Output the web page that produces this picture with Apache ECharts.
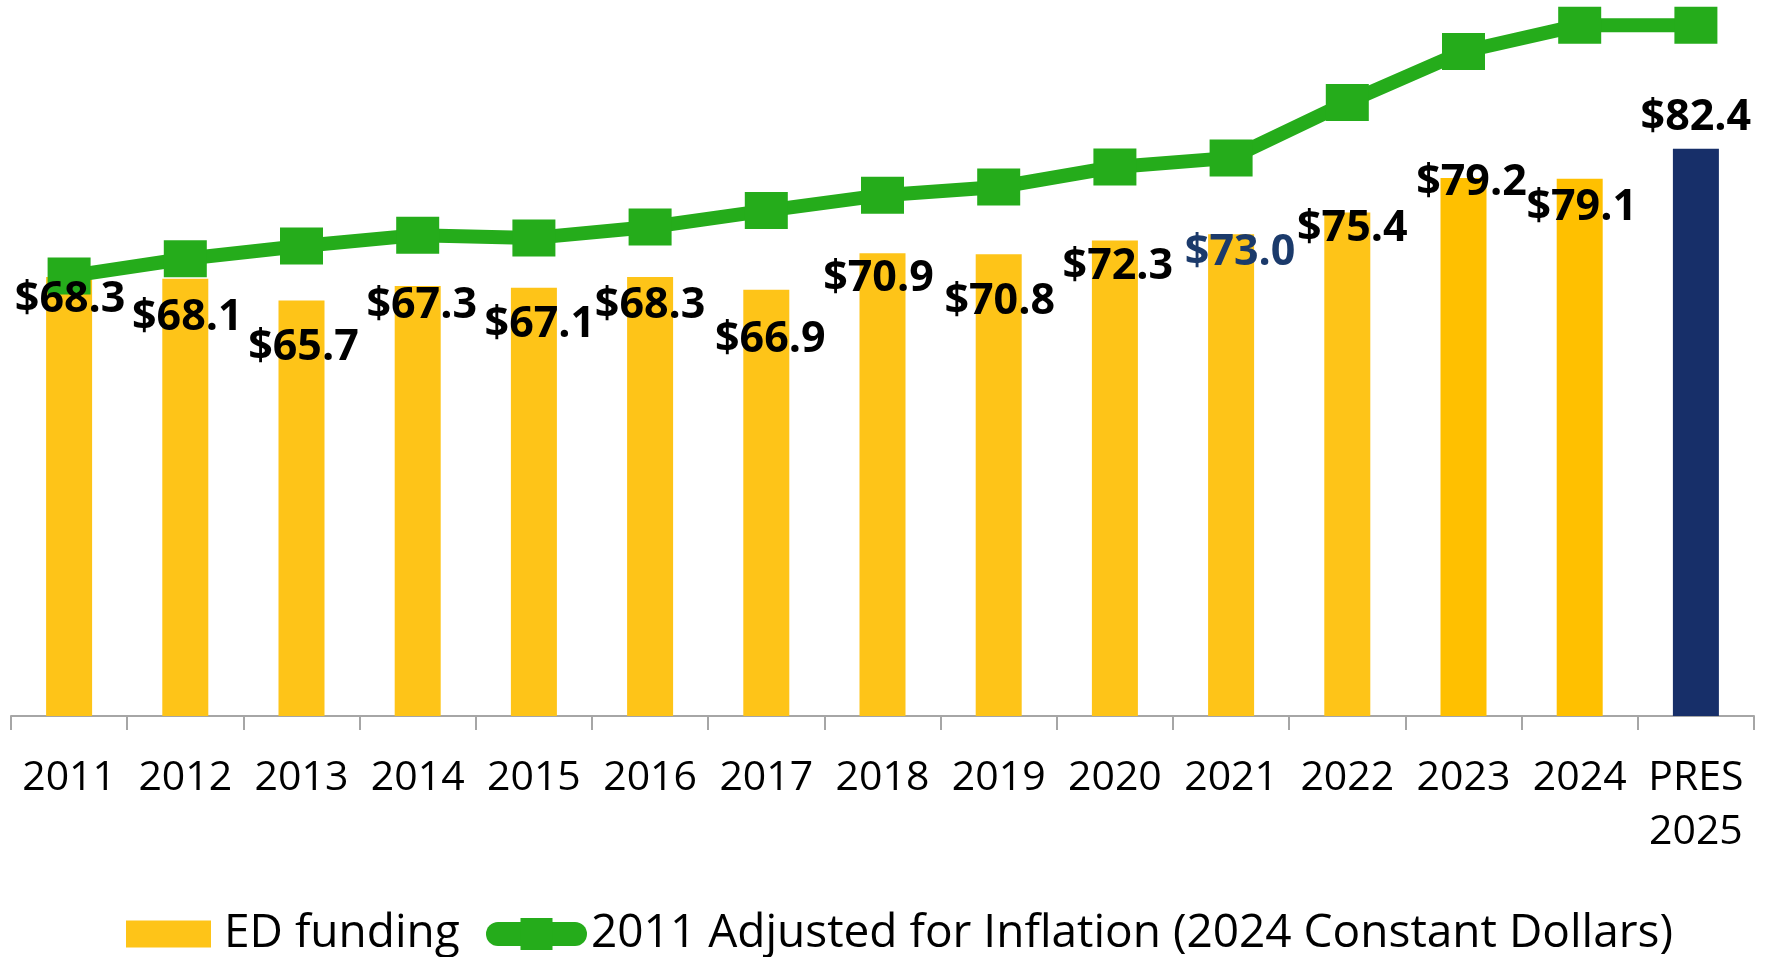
<!DOCTYPE html>
<html>
<head>
<meta charset="utf-8">
<script src="https://cdn.jsdelivr.net/npm/echarts@6/dist/echarts.min.js"></script>
<style>
html, body { margin: 0; padding: 0; background: #fff; }
#main { width: 1771px; height: 957px; }
</style>
</head>
<body>
<div id="main"></div>
<script>
// categories and values ($ billions)
var years = ['2011', '2012', '2013', '2014', '2015', '2016', '2017', '2018', '2019', '2020', '2021', '2022', '2023', '2024', 'PRES\n2025'];
var edFunding = [68.3, 68.1, 65.7, 67.3, 67.1, 68.3, 66.9, 70.9, 70.8, 72.3, 73.0, 75.4, 79.2, 79.1, 82.4];
var adjusted2011 = [68.4, 70.3, 71.7, 72.9, 72.6, 73.8, 75.6, 77.3, 78.2, 80.4, 81.4, 87.5, 93.1, 96.0, 96.0];

var barName = 'ED funding';
var lineName = '2011 Adjusted for Inflation (2024 Constant Dollars)';

// styling: bar colours, label colours, label nudges [dx, dy from bar top]
var barColors = ['#FEC418', '#FEC418', '#FEC418', '#FEC418', '#FEC418', '#FEC418', '#FEC418', '#FEC418', '#FEC418', '#FEC418', '#FEC418', '#FEC418', '#FFC000', '#FFC000', '#172F69'];
var labelColors = ['#000', '#000', '#000', '#000', '#000', '#000', '#000', '#000', '#000', '#000', '#1B3A6B', '#000', '#000', '#000', '#000'];
var labelNudge = [[1, 23], [2, 39], [2, 47], [4, 20], [6, 37], [0, 29], [4, 50], [-4, 25], [1, 48], [3, 26], [9, 19], [5, 16], [8, 5], [2, 29], [0, -31]];

var BAR_W = 46;
var FONT = '"Open Sans", Lato, sans-serif';

var myChart = echarts.init(document.getElementById('main'));

var barData = [];
var labelData = [];
for (var i = 0; i < edFunding.length; i++) {
    barData.push({
        value: edFunding[i],
        itemStyle: { color: barColors[i] }
    });
    labelData.push({
        value: edFunding[i],
        label: {
            position: [BAR_W / 2 + labelNudge[i][0], labelNudge[i][1]],
            color: labelColors[i]
        }
    });
}

var option = {
    animation: false,
    backgroundColor: '#fff',
    grid: {
        left: 11,
        right: 17,
        top: 7,
        bottom: 241,
        containLabel: false,
        outerBoundsMode: 'none'
    },
    legend: [{
        data: [{ name: barName, icon: 'rect' }],
        left: 126,
        top: 911,
        padding: 0,
        itemWidth: 85,
        itemHeight: 27,
        itemGap: 0,
        textStyle: { fontFamily: FONT, fontSize: 46, color: '#000', padding: [0, 0, 0, 8] }
    }, {
        data: [lineName],
        left: 486,
        top: 911,
        padding: 0,
        itemWidth: 77,
        itemHeight: 40,
        lineStyle: { width: 24, cap: 'round' },
        textStyle: { fontFamily: FONT, fontSize: 46, color: '#000', padding: [0, 0, 0, 11] }
    }],
    xAxis: {
        type: 'category',
        data: years,
        axisLine: { lineStyle: { color: '#A6A6A6', width: 2 } },
        axisTick: { show: true, length: 14, lineStyle: { color: '#A6A6A6', width: 2 } },
        axisLabel: {
            interval: 0,
            margin: 35,
            fontFamily: FONT,
            fontSize: 41,
            lineHeight: 54,
            color: '#000'
        }
    },
    yAxis: {
        type: 'value',
        min: 20,
        max: 98,
        show: false,
        splitLine: { show: false }
    },
    series: [{
        name: barName,
        type: 'bar',
        data: barData,
        barWidth: BAR_W,
        itemStyle: { color: '#FEC418' },
        z: 2
    }, {
        name: lineName,
        type: 'line',
        data: adjusted2011,
        symbol: 'rect',
        symbolSize: [43, 37],
        lineStyle: { color: '#25AC1B', width: 14 },
        itemStyle: { color: '#25AC1B' },
        z: 3
    }, {
        // label layer so the values sit above the line
        name: 'labels',
        type: 'bar',
        data: labelData,
        barWidth: BAR_W,
        barGap: '-100%',
        silent: true,
        itemStyle: { color: 'rgba(0,0,0,0)' },
        label: {
            show: true,
            align: 'center',
            verticalAlign: 'middle',
            fontFamily: FONT,
            fontWeight: 'bold',
            fontSize: 43,
            formatter: function (p) { return '$' + p.value.toFixed(1); }
        },
        z: 4
    }]
};

myChart.setOption(option);
</script>
</body>
</html>
